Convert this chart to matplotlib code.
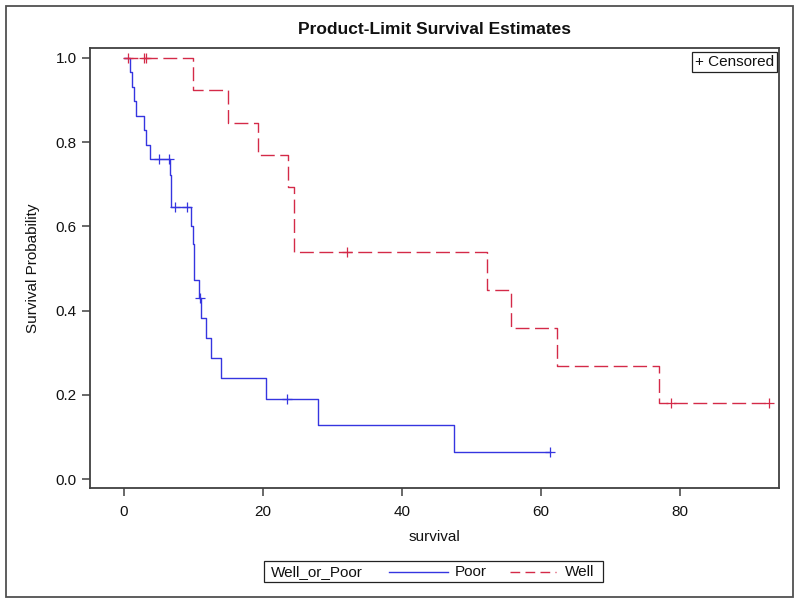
import matplotlib
matplotlib.use("Agg")
import matplotlib.pyplot as plt
from matplotlib.lines import Line2D
from matplotlib.patches import Rectangle
import numpy as np

plt.rcParams['font.family'] = ['Liberation Sans', 'DejaVu Sans']

# ---- data ----
poor_time = [0.8, 1.1, 1.4, 1.7, 2.8, 3.2, 3.7, 5.0, 6.5, 6.6, 6.75, 6.75,
             7.3, 9.1, 9.65, 9.85, 10.1, 10.1, 10.8, 10.9, 11.0, 11.8, 12.5,
             14.0, 20.4, 23.5, 27.9, 47.4, 61.2]
poor_event = [1, 1, 1, 1, 1, 1, 1, 0, 0, 1, 1, 1,
              0, 0, 1, 1, 1, 1, 1, 0, 1, 1, 1,
              1, 1, 0, 1, 1, 0]
well_time = [0.5, 2.8, 3.1, 9.9, 15.0, 19.3, 23.6, 24.5, 24.5, 32.1,
             52.2, 55.6, 62.2, 76.9, 78.7, 92.8]
well_event = [0, 0, 0, 1, 1, 1, 1, 1, 1, 0,
              1, 1, 1, 1, 0, 0]
group_labels = ['Poor', 'Well']
x_ticks = [0, 20, 40, 60, 80]
y_ticks = [0.0, 0.2, 0.4, 0.6, 0.8, 1.0]


def kaplan_meier(times, events):
    t = np.asarray(times, float)
    e = np.asarray(events, int)
    order = np.lexsort((1 - e, t))
    t, e = t[order], e[order]
    s = 1.0
    at_risk = len(t)
    xs, ys = [0.0], [1.0]
    cx, cy = [], []
    for ti in np.unique(t):
        mask = t == ti
        d = int(e[mask].sum())
        c = int(mask.sum()) - d
        if d > 0:
            s *= (at_risk - d) / at_risk
            xs.append(ti)
            ys.append(s)
        if c > 0:
            cx.extend([ti] * c)
            cy.extend([s] * c)
        at_risk -= d + c
    xs.append(t.max())
    ys.append(s)
    return xs, ys, cx, cy


fig = plt.figure(figsize=(8.0, 6.03), dpi=100)
ax = fig.add_axes([0.1125, 0.1902, 0.8613, 0.7307])

blue = '#3535e0'
red = '#d42a48'
styles = {
    'Poor': dict(color=blue, lw=1.0, ls='-'),
    'Well': dict(color=red, lw=1.0, ls=(0, (10, 4))),
}
series = {'Poor': (poor_time, poor_event), 'Well': (well_time, well_event)}
for name in group_labels:
    tt, ee = series[name]
    xs, ys, cx, cy = kaplan_meier(tt, ee)
    st = styles[name]
    ax.step(xs, ys, where='post', color=st['color'], lw=st['lw'], ls=st['ls'])
    ax.plot(cx, cy, ls='none', marker='+', ms=7, mew=0.9, color=st['color'])

ax.set_xlim(-4.9, 94.2)
ax.set_ylim(-0.022, 1.024)
ax.set_xticks(x_ticks)
ax.set_yticks(y_ticks)
ax.set_yticklabels([f'{v:.1f}' for v in y_ticks])
frame_col = '#404040'
for sp in ax.spines.values():
    sp.set_color(frame_col)
    sp.set_linewidth(1.3)
FS = 11
ax.tick_params(axis='both', direction='out', length=6, width=1.1,
               color=frame_col, labelsize=FS, labelcolor='#111111')
ax.tick_params(axis='x', pad=6)
ax.tick_params(axis='y', pad=3.5)

ax.text(0.9925, 0.983, '+ Censored', transform=ax.transAxes, ha='right', va='top',
        fontsize=FS, color='#111111',
        bbox=dict(boxstyle='square,pad=0.2', fc='white', ec='#222222', lw=0.9))

fig.text(0.543, 0.951, 'Product-Limit Survival Estimates', ha='center', va='center',
         fontsize=12.5, fontweight='bold', color='#111111')
fig.text(0.543, 0.109, 'survival', ha='center', va='center', fontsize=FS, color='#111111')
fig.text(0.041, 0.555, 'Survival Probability', ha='center', va='center',
         rotation=90, fontsize=FS, color='#111111')

# legend box at bottom
W, H = 800.0, 603.0
def fx(px):
    return px / W
def fy(py):
    return 1 - py / H

fig.add_artist(Rectangle((fx(264), fy(582.3)), fx(603) - fx(264), fy(561) - fy(582.3),
                         transform=fig.transFigure, fill=False, ec='#222222', lw=0.9))
ymid = fy(571.7)
fig.text(fx(270.5), ymid, 'Well_or_Poor', ha='left', va='center', fontsize=FS, color='#111111')
fig.add_artist(Line2D([fx(389), fx(448)], [ymid, ymid], transform=fig.transFigure,
                      color=blue, lw=1.0))
fig.text(fx(455), ymid, group_labels[0], ha='left', va='center', fontsize=FS, color='#111111')
fig.add_artist(Line2D([fx(510), fx(556)], [ymid, ymid], transform=fig.transFigure,
                      color=red, lw=1.0, ls=(0, (7, 3.8))))
fig.text(fx(565), ymid, group_labels[1], ha='left', va='center', fontsize=FS, color='#111111')

# outer border
fig.add_artist(Rectangle((fx(6), fy(596.5)), fx(793) - fx(6), fy(6) - fy(596.5),
                         transform=fig.transFigure, fill=False, ec='#505050', lw=1.3))

fig.savefig('out.png', dpi=100)
